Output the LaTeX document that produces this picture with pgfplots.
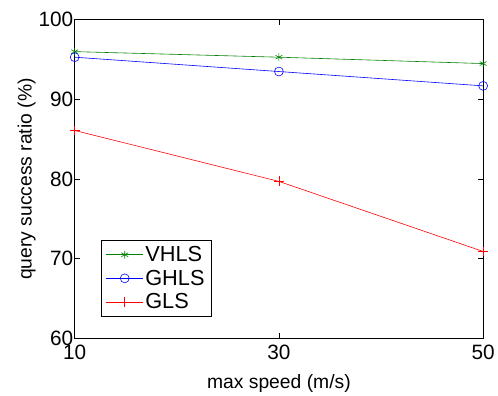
\documentclass[border=0pt]{standalone}
\usepackage{pgfplots}
\pgfplotsset{compat=1.18}
\usepackage{fontspec}
\setmainfont{Liberation Sans}
\definecolor{mgreen}{rgb}{0,0.5,0}
\begin{document}
\begin{tikzpicture}
\begin{axis}[
  scale only axis,
  width=413pt, height=322pt,
  at={(0,0)}, anchor=south west,
  xmin=10, xmax=50, ymin=60, ymax=100,
  xtick={10,30,50}, ytick={60,70,80,90,100},
  tick align=inside,
  major tick length=5pt,
  tick style={black, line width=0.6pt},
  axis line style={line width=0.8pt},
  /pgf/number format/assume math mode=true,
  ticklabel style={font=\fontsize{21}{24}\selectfont},
  xticklabel style={yshift=-3pt},
  yticklabel style={xshift=2pt},
  xlabel={max speed (m/s)},
  ylabel={query success ratio (\%)},
  label style={font=\fontsize{19.5}{22}\selectfont},
  xlabel style={yshift=-8pt},
  ylabel style={yshift=-4pt},
  legend style={at={(0.064,0.068)}, anchor=south west,
    font=\fontsize{22}{25}\selectfont, draw=black, line width=0.8pt,
    row sep=3pt, inner sep=4pt, inner xsep=5pt},
  legend cell align=left,
  legend image code/.code={\draw[#1, line width=0.6pt] (0pt,0pt) -- (37pt,0pt) plot coordinates {(18.5pt,0pt)};},
]
\addplot[color=mgreen, mark=asterisk, mark size=4pt, line width=0.6pt] coordinates {(10,96.0) (30,95.3) (50,94.5)};
\addlegendentry{VHLS}
\addplot[color=blue, mark=o, mark size=4.5pt, line width=0.6pt] coordinates {(10,95.3) (30,93.5) (50,91.7)};
\addlegendentry{GHLS}
\addplot[color=red, mark=+, mark size=5pt, line width=0.6pt, mark options={solid, red}] coordinates {(10,86.1) (30,79.7) (50,70.9)};
\addlegendentry{GLS}
\end{axis}
\path[use as bounding box] (-75.5pt,-51pt) rectangle (422.5pt,342pt);
\end{tikzpicture}
\end{document}
